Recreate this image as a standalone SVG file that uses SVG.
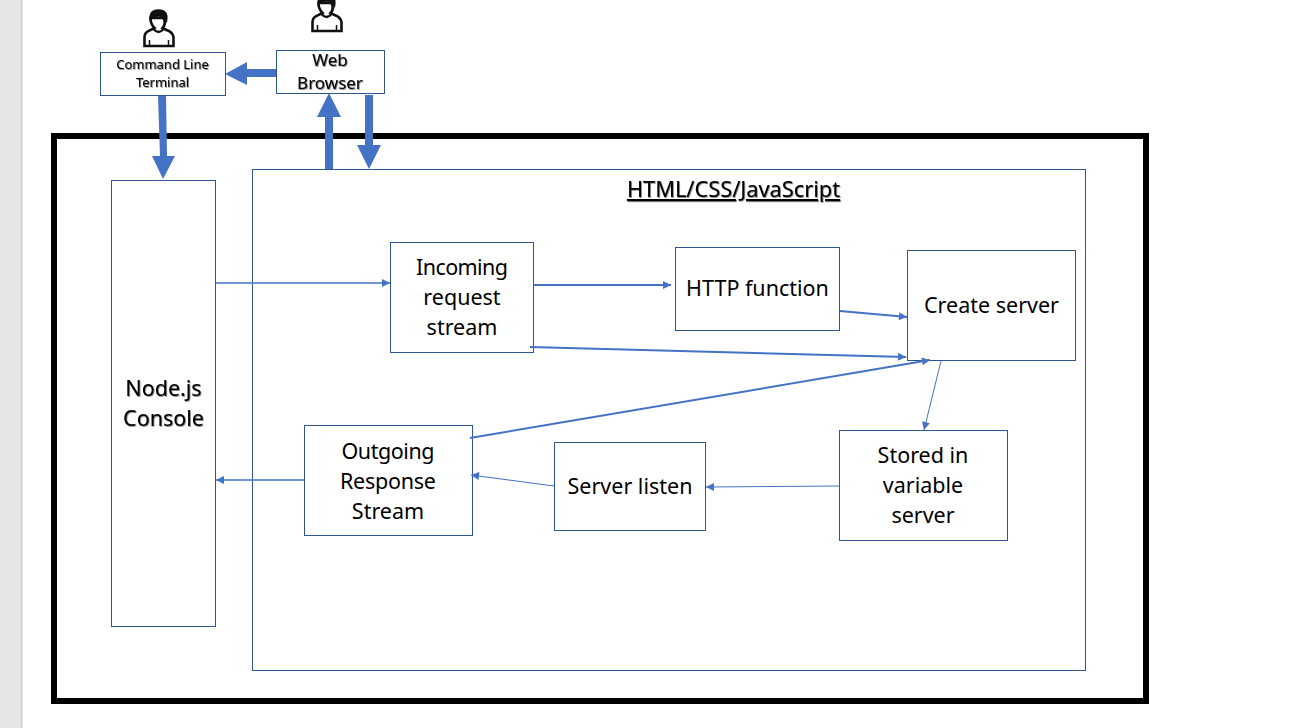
<svg xmlns="http://www.w3.org/2000/svg" width="1294" height="728" viewBox="0 0 1294 728">
<style>
.box{fill:#fff;stroke:#2f5597;stroke-width:1}
text{font-family:"Noto Sans","Open Sans",sans-serif;fill:#000;text-anchor:middle}
.t{font-size:21.5px}
.s{font-size:13px}
.b{font-size:17px}
.sh{filter:url(#shadow)}
.c{stroke:#4472c4;fill:none}
.h{fill:#4472c4;stroke:none}
</style>
<defs>
<filter id="shadow" x="-5%" y="-10%" width="110%" height="125%"><feDropShadow dx="0.8" dy="0.8" stdDeviation="0.6" flood-color="#000" flood-opacity="0.55"/></filter>
<marker id="a" viewBox="0 0 10 10" refX="10" refY="5" markerWidth="9" markerHeight="8" markerUnits="userSpaceOnUse" orient="auto"><path class="h" d="M0 0L10 5L0 10Z"/></marker>
<g id="person"><path d="M-14 22V13Q-14 8-8 6L-4 4Q-8 0-8-6L5-6Q8 0 4 4L8 6Q14 8 15 13V22Z" fill="#fff" stroke="#111" stroke-width="2.6"/><path d="M-8-3Q-10-14 0-14Q10-14 8-3L6-7Q0-9-6-7Z" fill="#111" stroke="#111" stroke-width="1.5"/><path d="M-5 5Q0 11 5 5" fill="none" stroke="#111" stroke-width="2.4"/><path d="M-9 16V22M10 16V22" stroke="#111" stroke-width="1.5"/></g>
</defs>
<rect width="1294" height="728" fill="#fff"/>
<rect x="0" y="0" width="21" height="728" fill="#e6e6e6"/>
<rect x="21" y="0" width="1.5" height="728" fill="#c8c8c8"/>
<rect id="frame" x="54" y="136" width="1092" height="565" fill="none" stroke="#000" stroke-width="6"/>
<g id="user1"><use href="#person" x="158.500" y="24"/></g>
<g id="user2"><use href="#person" x="326.500" y="9"/></g>
<g id="terminal"><rect class="box" x="100.500" y="52.500" width="125" height="43"/><text class="s sh" x="162.500" y="69">Command Line</text><text class="s sh" x="162.500" y="87">Terminal</text></g>
<g id="browser"><rect class="box" x="276.500" y="50.500" width="108" height="43"/><text class="b sh" x="330" y="66">Web</text><text class="b sh" x="330" y="89">Browser</text></g>
<g id="console"><rect class="box" x="111.500" y="180.500" width="104" height="446"/><text class="t sh" x="163.500" y="396">Node.js</text><text class="t sh" x="163.500" y="426">Console</text></g>
<g id="page"><rect class="box" x="252.500" y="169.500" width="833" height="501"/><text class="sh" x="733.500" y="197" text-decoration="underline" style="font-size:21.8px">HTML/CSS/JavaScript</text></g>
<g id="incoming"><rect class="box" x="390.500" y="242.500" width="143" height="110"/><text class="t" x="462" y="275" textLength="92">Incoming</text><text class="t" x="462" y="305">request</text><text class="t" x="462" y="335">stream</text></g>
<g id="http"><rect class="box" x="675.500" y="247.500" width="164" height="83"/><text class="t" x="757.500" y="296">HTTP function</text></g>
<g id="create"><rect class="box" x="907.500" y="250.500" width="168" height="110"/><text class="t" x="991.500" y="313">Create server</text></g>
<g id="stored"><rect class="box" x="839.500" y="430.500" width="168" height="110"/><text class="t" x="923" y="463">Stored in</text><text class="t" x="923" y="493">variable</text><text class="t" x="923" y="523">server</text></g>
<g id="listen"><rect class="box" x="554.500" y="442.500" width="151" height="88"/><text class="t" x="630" y="494">Server listen</text></g>
<g id="outgoing"><rect class="box" x="304.500" y="425.500" width="168" height="110"/><text class="t" x="388" y="459" textLength="93">Outgoing</text><text class="t" x="388" y="489" textLength="96">Response</text><text class="t" x="388" y="519">Stream</text></g>
<g id="connectors">
<path class="h" d="M276 69H247V62L225 74L247 85V77H276Z"/>
<path class="h" d="M158 96H166L167 156H175L163 179L152 156H160Z"/>
<path class="h" d="M325 169V117H317L329 93L341 117H333V169Z"/>
<path class="h" d="M365 95H373V145H381L369 169L357 145H365Z"/>
<path class="c" stroke-width="1.500" marker-end="url(#a)" d="M216 283H390"/>
<path class="c" stroke-width="2" marker-end="url(#a)" d="M533 285H671"/>
<path class="c" stroke-width="2" marker-end="url(#a)" d="M840 311L907 317"/>
<path class="c" stroke-width="2" marker-end="url(#a)" d="M530 347L906 357"/>
<path class="c" stroke-width="2" marker-end="url(#a)" d="M470 438L930 360"/>
<path class="c" stroke-width="1" marker-end="url(#a)" d="M941 361L924 430"/>
<path class="c" stroke-width="1" marker-end="url(#a)" d="M839 486L706 487"/>
<path class="c" stroke-width="1" marker-end="url(#a)" d="M554 486L471 475"/>
<path class="c" stroke-width="1.500" marker-end="url(#a)" d="M304 480H216"/>
</g>
</svg>
